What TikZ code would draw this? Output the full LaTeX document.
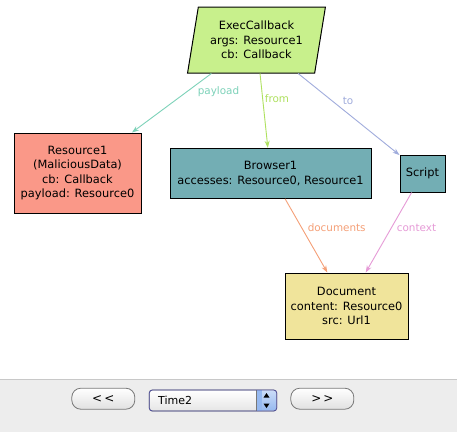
\documentclass[tikz,border=0pt]{standalone}
\usepackage{fontspec}
\setmainfont{DejaVu Sans}
\usetikzlibrary{shapes.geometric,arrows.meta}
\definecolor{cexec}{RGB}{200,240,140}
\definecolor{cres}{RGB}{250,152,136}
\definecolor{cbrow}{RGB}{115,174,180}
\definecolor{cdoc}{RGB}{240,228,155}
\definecolor{epay}{RGB}{125,210,185}
\definecolor{efrom}{RGB}{175,225,95}
\definecolor{eto}{RGB}{160,172,220}
\definecolor{edoc}{RGB}{245,160,120}
\definecolor{ectx}{RGB}{230,155,215}
\definecolor{panel}{RGB}{237,237,237}
\definecolor{panelline}{RGB}{200,200,200}
\definecolor{btnborder}{RGB}{120,120,120}
\definecolor{selblue}{RGB}{150,185,240}
\tikzset{
  box/.style={draw=black, line width=1pt, rectangle, align=center, inner sep=0pt,
    font=\fontsize{11.4}{14.5}\selectfont},
  edge/.style={line width=0.9pt, -{Stealth[length=7pt,width=5pt]}},
  elabel/.style={font=\fontsize{10.4}{12}\selectfont, inner sep=0pt},
  btn/.style={draw=btnborder, line width=0.8pt, rounded corners=9pt, top color=white, bottom color=black!12,
    minimum width=63pt, minimum height=21pt, inner sep=0pt, font=\fontsize{12}{12}\selectfont},
}
\begin{document}
\begin{tikzpicture}[x=1pt,y=-1pt]
\useasboundingbox (0,0) rectangle (457,432);
\fill[white] (0,0) rectangle (457,432);
% nodes
\node[box, fill=cexec, trapezium, trapezium left angle=77.2, trapezium right angle=102.8,
  trapezium stretches=true, minimum width=138pt, minimum height=66pt] (exec) at (256.5,40)
  {ExecCallback\\args: Resource1\\cb: Callback};
\node[box, fill=cres, minimum width=127pt, minimum height=80pt] (res) at (77.5,173)
  {Resource1\\(MaliciousData)\\cb: Callback\\payload: Resource0};
\node[box, fill=cbrow, minimum width=201pt, minimum height=50pt] (brow) at (270.5,173.3)
  {Browser1\\accesses: Resource0, Resource1};
\node[box, fill=cbrow, minimum width=45pt, minimum height=37pt] (script) at (422.5,173.5)
  {Script};
\node[box, fill=cdoc, minimum width=123pt, minimum height=66pt] (doc) at (346.5,306)
  {Document\\content: Resource0\\src: Url1};
% edges
\draw[edge, epay] (exec) -- (res);
\draw[edge, efrom] (exec) -- (brow);
\draw[edge, eto] (exec) -- (script);
\draw[edge, edoc] (brow) -- (doc);
\draw[edge, ectx] (script) -- (doc);
\node[elabel, text=epay] (lpay) at (218.5,92) {payload};
\node[elabel, text=efrom] (lfrom) at (277,99) {from};
\node[elabel, text=eto] (lto) at (348,101) {to};
\node[elabel, text=edoc] (ldoc) at (336.7,228) {documents};
\node[elabel, text=ectx] (lctx) at (416.5,228) {context};
% bottom panel
\fill[panel] (0,379.5) rectangle (457,432);
\draw[panelline, line width=1pt] (0,379.5) -- (457,379.5);
\node[btn] (prev) at (103.3,398.7) {<\,<};
\node[btn] (next) at (322.3,398.7) {>\,>};
\shade[top color=white, bottom color=black!10, rounded corners=3pt, draw=btnborder, line width=0.8pt]
  (149.3,390) rectangle (276.7,411);
\shade[top color=selblue!50, bottom color=selblue, rounded corners=3pt]
  (256,390.4) rectangle (276.3,410.6);
\fill[selblue] (256,390.4) rectangle (262,410.6);
\draw[btnborder, line width=0.8pt] (256,390) -- (256,411);
\draw[rounded corners=3pt, draw=btnborder!70!blue, line width=0.8pt] (149.3,390) rectangle (276.7,411);
\node[anchor=west, inner sep=0pt, font=\fontsize{11}{12}\selectfont] (sel) at (158,400.5) {Time2};
\fill[black] (263.5,397.5) -- (269.5,397.5) -- (266.5,393) -- cycle;
\fill[black] (263.5,403.5) -- (269.5,403.5) -- (266.5,408) -- cycle;
\end{tikzpicture}
\end{document}
